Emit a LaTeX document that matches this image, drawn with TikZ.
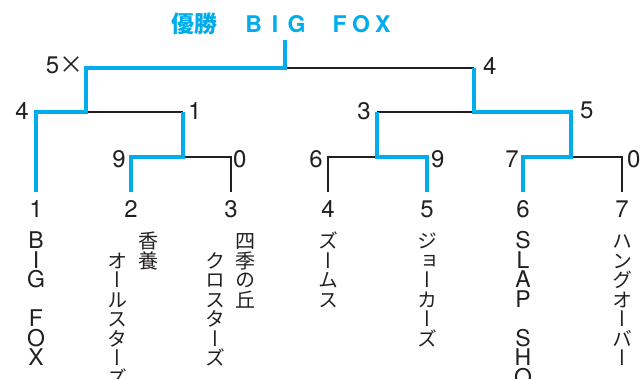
\documentclass[tikz,border=0pt]{standalone}
\usepackage{fontspec}
\setmainfont{TeX Gyre Heros}
\newfontfamily\jpfont{Noto Sans CJK JP}
\newfontfamily\jpvfont[RawFeature=+vert]{Noto Sans CJK JP}
\definecolor{winblue}{RGB}{0,172,236}
\definecolor{inkgray}{RGB}{35,31,32}
\newcommand\wbox[1]{\makebox[21.5pt]{#1}}

\begin{document}
\begin{tikzpicture}[x=1pt, y=-1pt, every node/.style={inner sep=0pt, text=inkgray},
  score/.style={font=\fontsize{24}{24}\selectfont, anchor=base},
  lat/.style={font=\fontsize{23}{23}\selectfont, anchor=base},
  kana/.style={font=\jpvfont\fontsize{20}{20}\selectfont, anchor=base},
  loser/.style={draw=inkgray, line width=1.5pt},
  winner/.style={draw=winblue, line width=4.5pt}]
    \useasboundingbox (0,0) rectangle (643,379);

    % title
    \node[anchor=base west, text=winblue, font=\bfseries\fontsize{23}{23}\selectfont] (title) at (171,33)
        {{\jpfont 優勝}\hspace{25.75pt}\wbox{B}\wbox{I}\wbox{G}\wbox{}\wbox{F}\wbox{O}\wbox{X}};

    % bracket points
    \coordinate (l1) at (36,192);
    \coordinate (l2) at (131,192);
    \coordinate (l3) at (231,192);
    \coordinate (l4) at (328,192);
    \coordinate (l5) at (427,192);
    \coordinate (l6) at (523,192);
    \coordinate (l7) at (622,192);
    \coordinate (m23) at (183,157);
    \coordinate (s23) at (183,112);
    \coordinate (m45) at (377,157);
    \coordinate (s45) at (377,112);
    \coordinate (m67) at (571,157);
    \coordinate (s67) at (571,112);
    \coordinate (m1) at (86,112);
    \coordinate (q1) at (86,68);
    \coordinate (m47) at (474,112);
    \coordinate (q47) at (474,68);
    \coordinate (fin) at (285,68);
    \coordinate (top) at (285,40);

    \draw[loser] (l3) |- (m23);
    \draw[loser] (s23) -- (m1);
    \draw[loser] (l4) |- (m45);
    \draw[loser] (l7) |- (m67);
    \draw[loser] (s45) -- (m47);
    \draw[loser] (fin) -- (q47);

    \draw[winner] (l2) |- (m23) -- (s23);
    \draw[winner] (l1) |- (m1) -- (q1) -- (fin) -- (top);
    \draw[winner] (l5) |- (m45) -- (s45);
    \draw[winner] (l6) |- (m67) -- (s67) -- (m47) -- (q47);

    % scores
    \node[score, anchor=base east] (sc1) at (83.5,74) {5{\jpfont ×}};
    \node[score, anchor=base west] (sc2) at (483,75) {4};
    \node[score, anchor=base east] (sc3) at (29,120) {4};
    \node[score, anchor=base west] (sc4) at (188,120) {1};
    \node[score, anchor=base east] (sc5) at (371,120) {3};
    \node[score, anchor=base west] (sc6) at (580,119) {5};
    \node[score, anchor=base east] (sc7) at (126,168) {9};
    \node[score, anchor=base west] (sc8) at (233,168) {0};
    \node[score, anchor=base east] (sc9) at (323,168) {6};
    \node[score, anchor=base west] (sc10) at (431,168) {9};
    \node[score, anchor=base east] (sc11) at (519,168) {7};
    \node[score, anchor=base west] (sc12) at (627,168) {0};

    % team numbers
    \node[score] (n1) at (36,218) {1};
    \node[score] (n2) at (131,218) {2};
    \node[score] (n3) at (231,218) {3};
    \node[score] (n4) at (328,218) {4};
    \node[score] (n5) at (427,218) {5};
    \node[score] (n6) at (523,218) {6};
    \node[score] (n7) at (622,218) {7};

    % team names, written top to bottom
    \foreach \ch/\k in {B/1,I/2,G/3,F/5,O/6,X/7}
        \node[lat] (t1-\k) at (36,{229.5+19.5*\k}) {\ch};
    \foreach \ch [count=\k] in {香,養}
        \node[kana] (t2a-\k) at (148,{229.5+19.5*\k}) {\ch};
    \foreach \ch [count=\k from 2] in {オ,ー,ル,ス,タ,ー,ズ}
        \node[kana] (t2b-\k) at (117,{229.5+19.5*\k}) {\ch};
    \foreach \ch [count=\k] in {四,季,の,丘}
        \node[kana] (t3a-\k) at (245,{229.5+19.5*\k}) {\ch};
    \foreach \ch [count=\k from 2] in {ク,ロ,ス,タ,ー,ズ}
        \node[kana] (t3b-\k) at (215,{229.5+19.5*\k}) {\ch};
    \foreach \ch [count=\k] in {ズ,ー,ム,ス}
        \node[kana] (t4-\k) at (328,{229.5+19.5*\k}) {\ch};
    \foreach \ch [count=\k] in {ジ,ョ,ー,カ,ー,ズ}
        \node[kana] (t5-\k) at (427,{229.5+19.5*\k}) {\ch};
    \foreach \ch/\k in {S/1,L/2,A/3,P/4,S/6,H/7,O/8,T/9}
        \node[lat] (t6-\k) at (523,{229.5+19.5*\k}) {\ch};
    \foreach \ch [count=\k] in {ハ,ン,グ,オ,ー,バ,ー}
        \node[kana] (t7-\k) at (622,{229.5+19.5*\k}) {\ch};
\end{tikzpicture}
\end{document}
